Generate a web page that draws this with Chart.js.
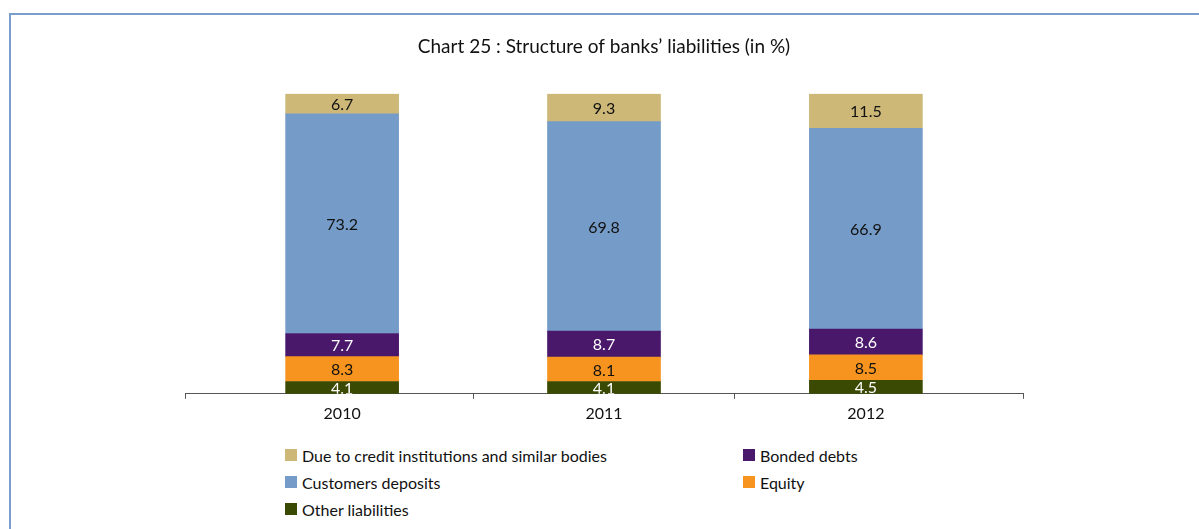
<!DOCTYPE html>
<html>
<head>
<meta charset="utf-8">
<script src="https://cdn.jsdelivr.net/npm/chart.js@4/dist/chart.umd.min.js"></script>
<style>
  html, body { margin: 0; padding: 0; background: #fff; }
  body { width: 1199px; height: 529px; position: relative; overflow: hidden; font-family: Lato, "Open Sans", sans-serif; }
  #frame { position: absolute; left: 9px; top: 13px; width: 1400px; height: 700px;
           border-top: 2px solid #7b9fcd; border-left: 2px solid #7b9fcd; }
  #wrap { position: absolute; left: 0; top: 0; width: 1199px; height: 436px; }
  #legend { position: absolute; left: 285px; top: 445px; width: 640px;
            display: grid; grid-template-columns: 458px 200px; row-gap: 7px; }
  #legend .item { display: flex; align-items: center; font-size: 16px; color: #111; height: 20px; }
  #legend .box { width: 12px; height: 12px; margin-right: 5px; flex: none; }
</style>
</head>
<body>
<div id="frame"></div>
<div id="wrap"><canvas id="liabchart"></canvas></div>
<div id="legend"></div>
<script>
  // years on the x axis
  const years = ['2010', '2011', '2012'];

  // shares of total liabilities, in %
  const otherLiabilities = [4.1, 4.1, 4.5];
  const equity = [8.3, 8.1, 8.5];
  const bondedDebts = [7.7, 8.7, 8.6];
  const customersDeposits = [73.2, 69.8, 66.9];
  const dueToCredit = [6.7, 9.3, 11.5];

  // tick marks between the years, labels on the years
  const xTicks = [-0.6, 0, 0.5, 1, 1.5, 2, 2.6];

  // legend reading order (row by row, two columns)
  const legendOrder = ['Due to credit institutions and similar bodies', 'Bonded debts',
                       'Customers deposits', 'Equity', 'Other liabilities'];

  const fontFamily = 'Lato, "Open Sans", sans-serif';
  const ctx1 = document.getElementById('liabchart');

  function points(values) {
    return values.map((v, i) => ({ x: i, y: v }));
  }

  // writes the value in the middle of every segment
  const segmentLabels = {
    id: 'segmentLabels',
    afterDatasetsDraw(chart) {
      const c = chart.ctx;
      const area = chart.chartArea;
      c.save();
      c.beginPath();
      c.rect(area.left, area.top, area.right - area.left, area.bottom - area.top);
      c.clip();
      c.font = '16px ' + fontFamily;
      c.textAlign = 'center';
      c.textBaseline = 'middle';
      chart.data.datasets.forEach((ds, i) => {
        chart.getDatasetMeta(i).data.forEach((bar, j) => {
          const p = bar.getProps(['x', 'y', 'base'], true);
          c.fillStyle = ds.labelColor;
          c.fillText(ds.data[j].y.toFixed(1), p.x, (p.y + p.base) / 2 + 1);
        });
      });
      c.restore();
    }
  };

  const liabchart = new Chart(ctx1, {
    type: 'bar',
    data: {
      datasets: [
        { label: 'Other liabilities', data: points(otherLiabilities), backgroundColor: '#3a4a02', labelColor: '#fff' },
        { label: 'Equity', data: points(equity), backgroundColor: '#f7941f', labelColor: '#111' },
        { label: 'Bonded debts', data: points(bondedDebts), backgroundColor: '#4a186b', labelColor: '#fff' },
        { label: 'Customers deposits', data: points(customersDeposits), backgroundColor: '#759cc8', labelColor: '#111' },
        { label: 'Due to credit institutions and similar bodies', data: points(dueToCredit), backgroundColor: '#cdb878', labelColor: '#111' }
      ]
    },
    options: {
      responsive: true,
      maintainAspectRatio: false,
      animation: false,
      barThickness: 113,
      layout: { padding: { left: 185, right: 176, top: 0, bottom: 8 } },
      plugins: {
        legend: { display: false },
        tooltip: { enabled: false },
        title: {
          display: true,
          text: 'Chart 25 : Structure of banks\u2019 liabilities (in %)',
          color: '#111',
          font: { family: fontFamily, size: 19, weight: 'normal' },
          padding: { top: 35, bottom: 36 }
        }
      },
      scales: {
        x: {
          type: 'linear',
          stacked: true,
          offset: false,
          min: -0.6,
          max: 2.6,
          afterBuildTicks: (scale) => { scale.ticks = xTicks.map(v => ({ value: v })); },
          ticks: {
            autoSkip: false,
            maxRotation: 0,
            padding: 5,
            color: '#111',
            font: { family: fontFamily, size: 16 },
            callback: (v) => Number.isInteger(v) ? years[v] : ''
          },
          grid: {
            offset: false,
            drawOnChartArea: false,
            tickLength: 5,
            color: (c) => (c.tick && Number.isInteger(c.tick.value)) ? 'rgba(0,0,0,0)' : '#555'
          },
          border: { color: '#555', width: 1 }
        },
        y: {
          stacked: true,
          display: false,
          min: 0,
          max: 100
        }
      }
    },
    plugins: [segmentLabels]
  });

  // LEGEND
  const legendElement = document.getElementById('legend');
  legendOrder.forEach((name) => {
    const ds = liabchart.data.datasets.find(d => d.label === name);
    const item = document.createElement('div');
    item.className = 'item';
    const box = document.createElement('span');
    box.className = 'box';
    box.style.background = ds.backgroundColor;
    item.appendChild(box);
    item.appendChild(document.createTextNode(name));
    legendElement.appendChild(item);
  });
</script>
</body>
</html>
